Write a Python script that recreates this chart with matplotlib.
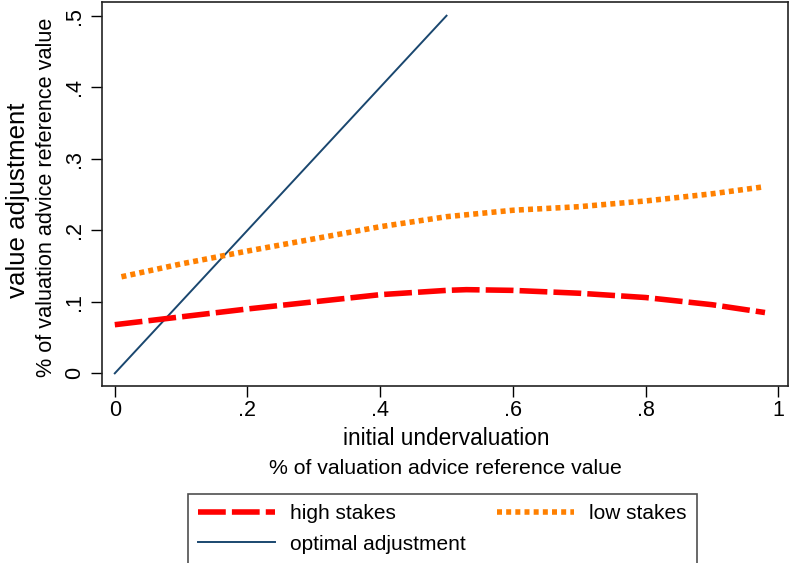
import matplotlib.pyplot as plt
from matplotlib.ticker import FuncFormatter
from matplotlib.lines import Line2D

plt.rcParams['font.family'] = ['Liberation Sans', 'DejaVu Sans']

# curvas
x_high = [0.0, 0.1, 0.2, 0.3, 0.4, 0.5, 0.53, 0.6, 0.7, 0.8, 0.9, 0.98]
y_high = [0.068, 0.079, 0.090, 0.100, 0.110, 0.116, 0.117, 0.116, 0.112, 0.106, 0.096, 0.085]

x_low = [0.01, 0.1, 0.2, 0.3, 0.4, 0.5, 0.6, 0.7, 0.8, 0.9, 0.98]
y_low = [0.135, 0.153, 0.171, 0.188, 0.205, 0.219, 0.228, 0.233, 0.241, 0.251, 0.261]

x_opt = [0.0, 0.5]
y_opt = [0.0, 0.5]

x_ticks = [0, 0.2, 0.4, 0.6, 0.8, 1]
y_ticks = [0, 0.1, 0.2, 0.3, 0.4, 0.5]


def sem_zero(v, pos):  # estilo Stata: ".2" em vez de "0.2"
    if v == 0:
        return "0"
    if v == 1:
        return "1"
    return f"{v:.1f}".lstrip("0")


fig = plt.figure(figsize=(7.89, 5.63), dpi=100)
ax = fig.add_axes([0.129, 0.314, 0.870, 0.683])

ax.plot(x_opt, y_opt, color="#1a476f", lw=1.4, zorder=2)
ax.plot(x_high, y_high, color="#ff0000", lw=4, dashes=(5, 1.1), zorder=3)
ax.plot(x_low, y_low, color="#ff8000", lw=4, dashes=(0.9, 0.75), zorder=3)

ax.set_xlim(-0.0196, 1.015)
ax.set_ylim(-0.018, 0.5196)
ax.set_xticks(x_ticks)
ax.set_yticks(y_ticks)
ax.xaxis.set_major_formatter(FuncFormatter(sem_zero))
ax.yaxis.set_major_formatter(FuncFormatter(sem_zero))
ax.tick_params(direction="out", length=8, width=1, labelsize=15.5, pad=2)
ax.tick_params(axis="y", pad=4)
for lab in ax.get_yticklabels():
    lab.set_rotation(90)
    lab.set_va("center")

for s in ax.spines.values():
    s.set_linewidth(1.2)
    s.set_color("#222222")

# rótulos dos eixos (duas linhas, tamanhos diferentes)
fig.text(0.565, 0.222, "initial undervaluation", ha="center", va="center", fontsize=16.3)
fig.text(0.565, 0.168, "% of valuation advice reference value", ha="center", va="center", fontsize=15.3)
fig.text(0.023, 0.645, "value adjustment", ha="center", va="center", rotation=90, fontsize=18.6)
fig.text(0.059, 0.649, "% of valuation advice reference value", ha="center", va="center", rotation=90, fontsize=15.6)

handles = [
    Line2D([], [], color="#ff0000", lw=4, dashes=(5, 1.1)),
    Line2D([], [], color="#1a476f", lw=1.4),
    Line2D([], [], color="#ff8000", lw=4, dashes=(0.9, 0.75)),
]
labels = ["high stakes", "optimal adjustment", "low stakes"]
leg = fig.legend(handles, labels, ncol=2, loc="upper left", bbox_to_anchor=(0.238, 0.123),
                 borderaxespad=0, fontsize=15, frameon=True, fancybox=False, edgecolor="#222222",
                 handlelength=3.7, handletextpad=0.72, columnspacing=1.5,
                 borderpad=0.5, labelspacing=0.55)
leg.get_frame().set_linewidth(1.2)

fig.savefig("out.png", dpi=100)
